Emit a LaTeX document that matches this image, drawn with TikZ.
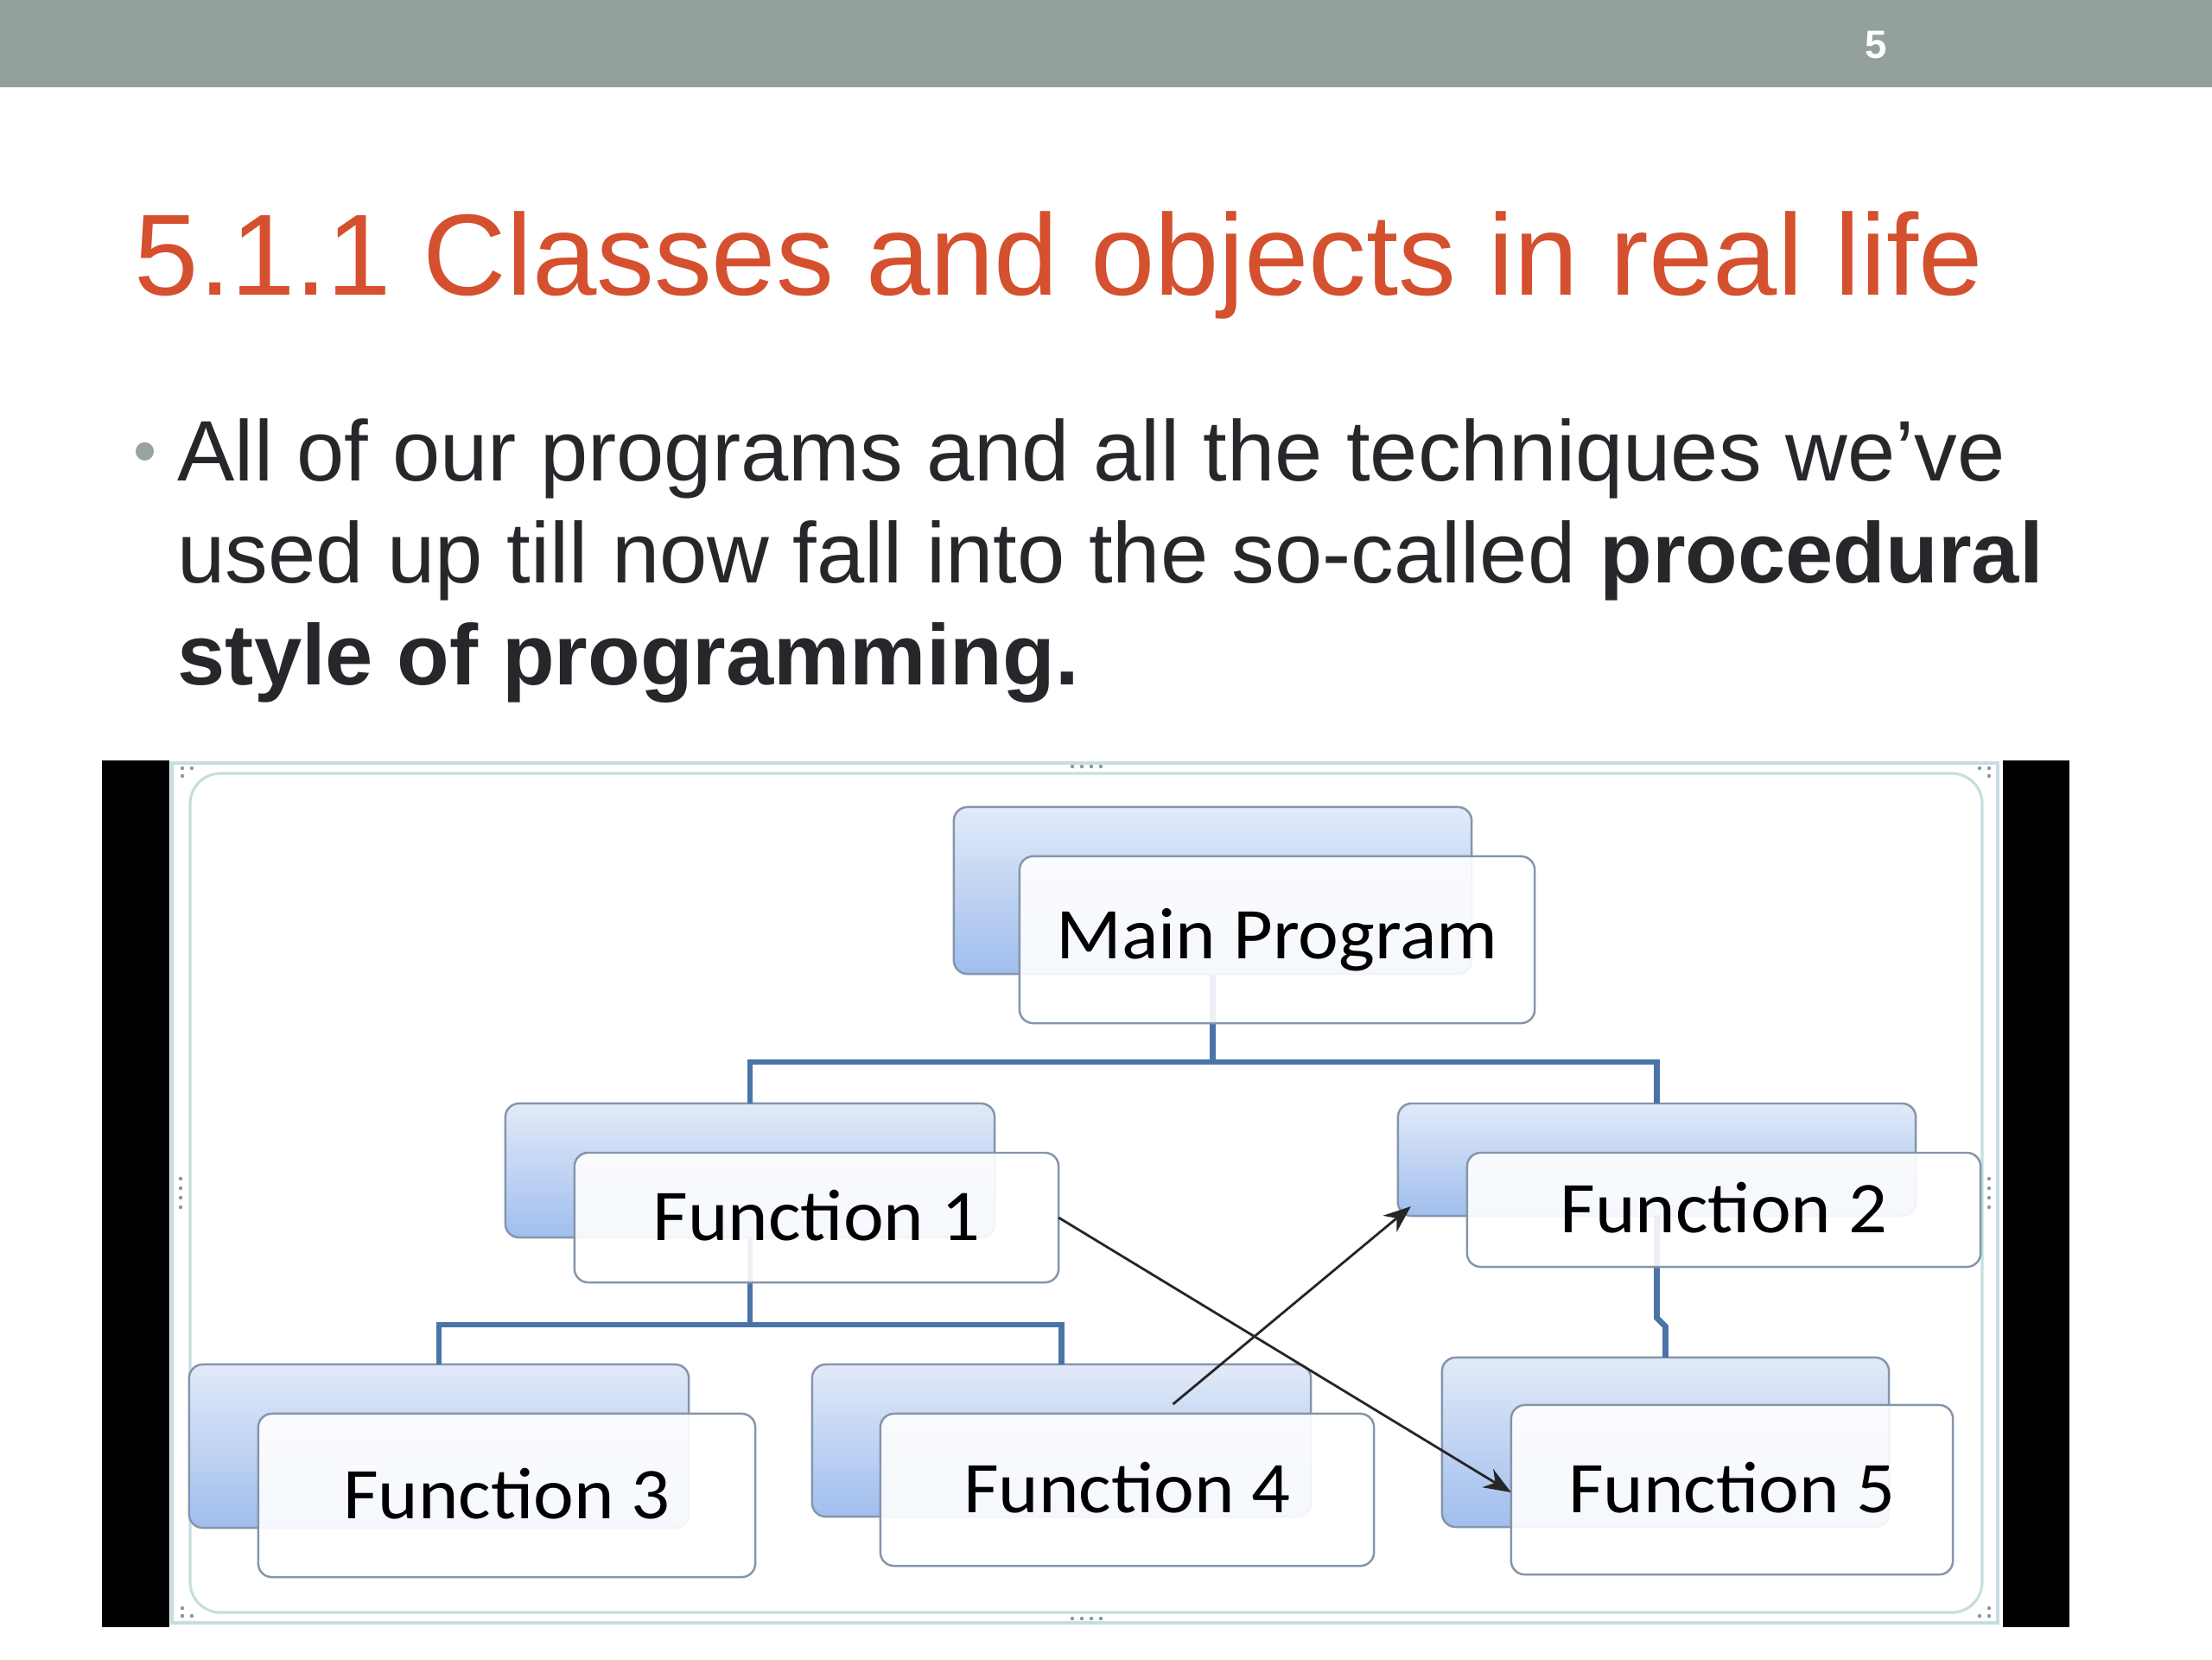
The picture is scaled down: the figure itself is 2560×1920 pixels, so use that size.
\documentclass[tikz,border=0pt]{standalone}
\usepackage{fontspec}
\setmainfont{Liberation Sans}
\newfontfamily\diagfont{Carlito}
\usetikzlibrary{arrows.meta}
\definecolor{headbar}{HTML}{93A19A}
\definecolor{titlecol}{HTML}{D4502E}
\definecolor{bodycol}{HTML}{26262B}
\definecolor{bulletcol}{HTML}{97A39D}
\definecolor{conncol}{HTML}{4A74A8}
\definecolor{boxline}{HTML}{8595AA}
\definecolor{backtop}{HTML}{E2EAF8}
\definecolor{backbot}{HTML}{A0BEEE}
\definecolor{framecol}{HTML}{C6DEE0}
\definecolor{handlecol}{HTML}{8A9A9A}
\tikzset{
  backbox/.style={rectangle, rounded corners=4.5pt, draw=boxline, line width=0.7pt,
    top color=backtop, bottom color=backbot, inner sep=0pt, outer sep=0pt},
  frontbox/.style={rectangle, rounded corners=4.5pt, draw=boxline, line width=0.7pt,
    fill=white, fill opacity=0.9, text opacity=1, inner sep=0pt, outer sep=0pt,
    font=\diagfont\fontsize{24}{28}\selectfont},
  conn/.style={draw=conncol, line width=1.9pt},
  callarrow/.style={draw=black!85, line width=0.8pt, -{Stealth[length=9pt,width=7pt]}},
  bodytext/.style={anchor=base west, text=bodycol, font=\fontsize{28.25}{33}\selectfont, inner sep=0pt},
}
\newcommand{\dlabel}[1]{\raisebox{1.3pt}{\scalebox{1.05}[1]{#1}}}
\begin{document}
\begin{tikzpicture}[x=0.01cm,y=-0.01cm]
\useasboundingbox (0,0) rectangle (2560,1920);
\fill[white] (0,0) rectangle (2560,1920);
% header bar
\fill[headbar] (0,0) rectangle (2560,101);
\node[text=white, font=\bfseries\fontsize{13}{15}\selectfont] (pagenum) at (2171,52) {5};
% title
\node[anchor=base west, text=titlecol, font=\fontsize{38}{44}\selectfont, inner sep=0pt] (title) at (155,341) {5.1.1 Classes and objects in real life};
% bullet text
\node[text=bulletcol, font=\fontsize{22}{22}\selectfont, inner sep=0pt] (bullet) at (168,530) {•};
\node[bodytext] (line1) at (205,556) {All of our programs and all the techniques we’ve};
\node[bodytext] (line2) at (205,674) {used up till now fall into the so-called \textbf{procedural}};
\node[bodytext] (line3) at (205,792) {\textbf{style of programming.}};
% picture area
\fill[black] (118,880) rectangle (196,1883);
\fill[black] (2318,880) rectangle (2395,1883);
\draw[framecol, line width=0.9pt] (199,883) rectangle (2312,1878);
\draw[framecol, line width=0.9pt, rounded corners=10pt] (220,895) rectangle (2294,1866);
% handles
\foreach \hx in {1241,1252,1263,1274} {
  \fill[handlecol] (\hx,887) circle (2.2);
  \fill[handlecol] (\hx,1873) circle (2.2);
}
\foreach \hy in {1364,1375,1386,1397} {
  \fill[handlecol] (209,\hy) circle (2.2);
  \fill[handlecol] (2302,\hy) circle (2.2);
}
\foreach \cx/\cy in {211/889, 222/889, 211/898, 2291/889, 2302/889, 2302/898, 211/1870, 222/1870, 211/1861, 2291/1870, 2302/1870, 2302/1861} {
  \fill[handlecol] (\cx,\cy) circle (2.2);
}
% back boxes
\node[backbox, minimum width=5.99cm, minimum height=1.93cm] (mainb) at (1403.5,1030.5) {};
\node[backbox, minimum width=5.66cm, minimum height=1.55cm] (f1b) at (868,1354.5) {};
\node[backbox, minimum width=5.99cm, minimum height=1.30cm] (f2b) at (1917.5,1342) {};
\node[backbox, minimum width=5.78cm, minimum height=1.89cm] (f3b) at (508,1673.5) {};
\node[backbox, minimum width=5.77cm, minimum height=1.76cm] (f4b) at (1228.5,1667) {};
\node[backbox, minimum width=5.17cm, minimum height=1.96cm] (f5b) at (1927.5,1669) {};
% connectors
\draw[conn] (mainb.south) -- ++(0,102) -| (f1b.north);
\draw[conn] (mainb.south) -- ++(0,102) -| (f2b.north);
\draw[conn] (f1b.south) -- ++(0,101) -| (f3b.north);
\draw[conn] (f1b.south) -- ++(0,101) -| (f4b.north);
\draw[conn] (f2b.south) -- ++(0,118) -- ++(10,10) -- (f5b.north);
% front boxes
\node[frontbox, minimum width=5.96cm, minimum height=1.93cm] (mainf) at (1478,1087.5) {\dlabel{Main Program}};
\node[frontbox, minimum width=5.60cm, minimum height=1.50cm] (f1f) at (945,1409) {\dlabel{Function 1}};
\node[frontbox, minimum width=5.94cm, minimum height=1.32cm] (f2f) at (1995,1400) {\dlabel{Function 2}};
\node[frontbox, minimum width=5.75cm, minimum height=1.89cm] (f3f) at (586.5,1730.5) {\dlabel{Function 3}};
\node[frontbox, minimum width=5.71cm, minimum height=1.76cm] (f4f) at (1304.5,1724) {\dlabel{Function 4}};
\node[frontbox, minimum width=5.11cm, minimum height=1.96cm] (f5f) at (2004.5,1724) {\dlabel{Function 5}};
% call arrows
\draw[callarrow] (f1f.east) -- ([yshift=-0.03cm]f5f.west);
\draw[callarrow] ([xshift=0.53cm,yshift=0.11cm]f4f.north) -- ([xshift=0.15cm,yshift=0.11cm]f2b.south west);
\end{tikzpicture}
\end{document}
